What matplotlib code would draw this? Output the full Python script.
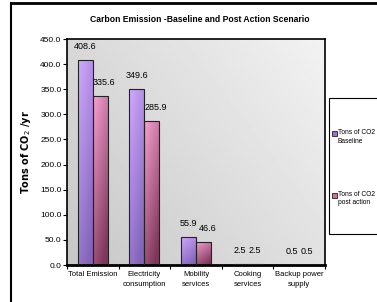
import matplotlib
matplotlib.use("Agg")
import matplotlib.pyplot as plt
import numpy as np
from matplotlib.patches import Rectangle
from matplotlib.lines import Line2D

categories = ["Total Emission", "Electricity\nconsumption", "Mobility\nservices",
              "Cooking\nservices", "Backup power\nsupply"]
baseline = [408.6, 349.6, 55.9, 2.5, 0.5]
post_action = [335.6, 285.9, 46.6, 2.5, 0.5]
yticks = np.arange(0, 451, 50)
legend_labels = ["Tons of CO2\nBaseline", "Tons of CO2\npost action"]

plt.rcParams["font.family"] = ["Liberation Sans", "DejaVu Sans"]

W, H = 377, 302
fig = plt.figure(figsize=(W / 100, H / 100), dpi=100)
fig.patch.set_facecolor("white")


def px(x0, y0, x1, y1):
    return [x0 / W, 1 - y1 / H, (x1 - x0) / W, (y1 - y0) / H]


ax = fig.add_axes(px(67, 39, 325, 265))

# plot area gradient (darker top-left, lighter bottom-right)
gx, gy = np.meshgrid(np.linspace(0, 1, 200), np.linspace(0, 1, 200))
grad = 0.78 + 0.17 * (gx * 0.6 + (1 - gy) * 0.4)
ax.imshow(grad, cmap="gray", vmin=0, vmax=1, extent=[0, 1, 0, 1],
          transform=ax.transAxes, aspect="auto", zorder=0, origin="upper")

x = np.arange(len(categories))
w = 0.29


def shade(bars, top, bottom):
    top = np.array(top) / 255.0
    bottom = np.array(bottom) / 255.0
    for b in bars:
        x0, y0 = b.get_x(), b.get_y()
        bw, bh = b.get_width(), b.get_height()
        if bh <= 0:
            continue
        t = np.linspace(0, 1, 100)[:, None]   # 0 top -> 1 bottom
        s = np.linspace(0, 1, 20)[None, :]    # left -> right
        f = np.clip(t * 0.75 + s * 0.35, 0, 1)[..., None]
        img = top * (1 - f) + bottom * f
        im = ax.imshow(img, extent=[x0, x0 + bw, y0, y0 + bh], aspect="auto",
                       zorder=2, origin="upper")
        im.set_clip_path(b)


b1 = ax.bar(x - w / 2, baseline, w, facecolor="none", edgecolor="#222222",
            linewidth=0.8, zorder=3)
b2 = ax.bar(x + w / 2, post_action, w, facecolor="none", edgecolor="#222222",
            linewidth=0.8, zorder=3)
shade(b1, (208, 170, 255), (130, 100, 185))
shade(b2, (248, 160, 210), (125, 55, 90))

for i in range(len(categories)):
    ax.annotate(f"{baseline[i]:.1f}", (x[i] - w / 2, baseline[i]),
                xytext=(0, 6.5), textcoords="offset points", ha="center",
                va="bottom", fontsize=6.5, zorder=5)
    ax.annotate(f"{post_action[i]:.1f}", (x[i] + w / 2, post_action[i]),
                xytext=(3 if post_action[i] > 10 else 0, 6.5),
                textcoords="offset points", ha="center", va="bottom",
                fontsize=6.5, zorder=5)

ax.set_xlim(-0.5, len(categories) - 0.5)
ax.set_ylim(0, 450)
ax.set_yticks(yticks)
ax.set_yticklabels([f"{v:.1f}" for v in yticks], fontsize=6)
ax.set_xticks(np.arange(-0.5, len(categories), 1))
ax.set_xticklabels([])
ax.set_xticks(x, minor=True)
ax.set_xticklabels(categories, minor=True, fontsize=5.5, linespacing=1.6)
ax.tick_params(axis="x", which="minor", length=0, pad=4)
ax.tick_params(axis="x", which="major", length=3, direction="out")
ax.tick_params(axis="y", length=3, direction="out", pad=1)
for side in ["top", "right", "left"]:
    ax.spines[side].set_linewidth(1.2)
    ax.spines[side].set_color("black")
ax.spines["bottom"].set_linewidth(2)

ax.set_ylabel("Tons of CO$_2$ /yr", fontsize=7, fontweight="bold",
              family="DejaVu Sans", labelpad=5)

fig.text(200 / W, 1 - 20 / H, "Carbon Emission -Baseline and Post Action Scenario",
         ha="center", va="center", fontsize=6.2, fontweight="bold")

# outer chart border
fig.add_artist(Line2D([11 / W, 11 / W], [0, 1 - 3 / H], color="black",
                      linewidth=1.5, transform=fig.transFigure))
fig.add_artist(Line2D([11 / W, 1], [1 - 3 / H, 1 - 3 / H], color="black",
                      linewidth=2, transform=fig.transFigure))

# legend box
fig.add_artist(Rectangle((329 / W, 1 - 234 / H), 60 / W, 136 / H,
                         transform=fig.transFigure, facecolor="white",
                         edgecolor="black", linewidth=0.8))
for ly, lab, col in [(133, legend_labels[0], "#9a70d8"),
                     (195, legend_labels[1], "#d86a9e")]:
    fig.add_artist(Rectangle((332 / W, 1 - (ly + 3) / H), 5 / W, 5 / H,
                             transform=fig.transFigure, facecolor=col,
                             edgecolor="#222222", linewidth=0.6))
    fig.text(338 / W, 1 - (ly - 4) / H, lab, ha="left", va="top",
             fontsize=4.8, linespacing=1.3)

fig.savefig("out.png", dpi=100)
